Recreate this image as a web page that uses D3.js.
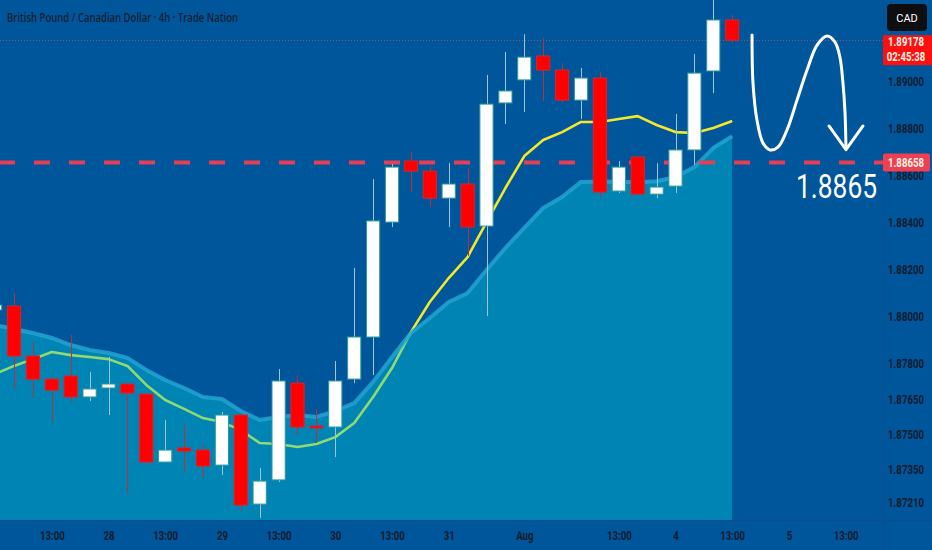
<!DOCTYPE html>
<html>
<head>
<meta charset="utf-8">
<script src="https://cdn.jsdelivr.net/npm/d3@7"></script>
<style>
  html, body { margin: 0; padding: 0; background: #00569a; }
  svg { display: block; }
  .axis text {
    font-family: Roboto, "DejaVu Sans", sans-serif;
    font-weight: bold;
    font-size: 12px;
    fill: #131a2e;
  }
</style>
</head>
<body>
<div id="chart"></div>
<script>
//******************
// Data (4h candles, GBP/CAD)
//******************
var opens = [1.88030, 1.88047, 1.87834, 1.87736, 1.87749, 1.87660, 1.87698, 1.87715, 1.87672, 1.87383,
  1.87443, 1.87434, 1.87370, 1.87583, 1.87204, 1.87307, 1.87719, 1.87536, 1.87532, 1.87736,
  1.87915, 1.88404, 1.88664, 1.88621, 1.88506, 1.88566, 1.88387, 1.88911, 1.89009, 1.89111,
  1.89051, 1.88923, 1.89017, 1.88536, 1.88681, 1.88523, 1.88557, 1.88711, 1.89047, 1.89264];
var highs = [1.88072, 1.88102, 1.87894, 1.87749, 1.87924, 1.87766, 1.87830, 1.87715, 1.87672, 1.87562,
  1.87541, 1.87460, 1.87596, 1.87583, 1.87358, 1.87779, 1.87753, 1.87609, 1.87813, 1.88209,
  1.88587, 1.88651, 1.88702, 1.88643, 1.88655, 1.88634, 1.89030, 1.89128, 1.89204, 1.89187,
  1.89081, 1.89060, 1.89043, 1.88664, 1.88681, 1.88655, 1.88864, 1.89119, 1.89362, 1.89285];
var lows = [1.87996, 1.87694, 1.87660, 1.87553, 1.87638, 1.87643, 1.87583, 1.87251, 1.87375, 1.87383,
  1.87341, 1.87315, 1.87328, 1.87175, 1.87145, 1.87298, 1.87498, 1.87464, 1.87404, 1.87719,
  1.87753, 1.88383, 1.88532, 1.88468, 1.88383, 1.88260, 1.88004, 1.88821, 1.88872, 1.88919,
  1.88911, 1.88843, 1.88511, 1.88528, 1.88523, 1.88506, 1.88528, 1.88647, 1.88953, 1.89166];
var closes = [1.88051, 1.87834, 1.87736, 1.87689, 1.87660, 1.87694, 1.87715, 1.87677, 1.87383, 1.87434,
  1.87430, 1.87366, 1.87583, 1.87200, 1.87302, 1.87728, 1.87532, 1.87528, 1.87728, 1.87915,
  1.88409, 1.88638, 1.88621, 1.88506, 1.88566, 1.88383, 1.88906, 1.88962, 1.89106, 1.89051,
  1.88923, 1.89017, 1.88532, 1.88638, 1.88523, 1.88553, 1.88711, 1.89038, 1.89264, 1.89178];

// slow average, drawn as filled area
var maSlow = [1.87966, 1.87949, 1.87932, 1.87911, 1.87881, 1.87860, 1.87847, 1.87826, 1.87775, 1.87732,
  1.87698, 1.87660, 1.87651, 1.87600, 1.87562, 1.87575, 1.87583, 1.87575, 1.87600, 1.87634,
  1.87724, 1.87830, 1.87932, 1.87996, 1.88064, 1.88102, 1.88200, 1.88294, 1.88379, 1.88464,
  1.88511, 1.88575, 1.88577, 1.88576, 1.88574, 1.88578, 1.88596, 1.88638, 1.88719, 1.88770];
// fast average (yellow line)
var maFast = [1.87758, 1.87792, 1.87821, 1.87851, 1.87838, 1.87830, 1.87821, 1.87792, 1.87711, 1.87647,
  1.87609, 1.87570, 1.87553, 1.87519, 1.87464, 1.87460, 1.87447, 1.87460, 1.87489, 1.87549,
  1.87660, 1.87783, 1.87936, 1.88064, 1.88166, 1.88255, 1.88404, 1.88549, 1.88685, 1.88753,
  1.88787, 1.88830, 1.88830, 1.88843, 1.88855, 1.88817, 1.88787, 1.88783, 1.88804, 1.88834];

var priceTicks = [1.89, 1.888, 1.886, 1.884, 1.882, 1.88, 1.878, 1.8765, 1.875, 1.8735, 1.8721];
var timeTickIdx = [3, 6, 9, 12, 15, 18, 21, 24, 28, 33, 36, 39, 42, 45];
var timeTickLabels = ["13:00", "28", "13:00", "29", "13:00", "30", "13:00", "31", "Aug", "13:00", "4", "13:00", "5", "13:00"];

var lastPrice = 1.89178;
var levelPrice = 1.88658;
var levelText = "1.8865";

// hand drawn projection arrow, in [candle index, price]
var arrowPath = [[40.05, 1.89200], [40.10, 1.88996], [40.31, 1.88838], [40.63, 1.88740], [41.0, 1.88711],
  [41.42, 1.88723], [41.90, 1.88796], [42.43, 1.88923], [42.96, 1.89051], [43.49, 1.89157],
  [44.02, 1.89196], [44.44, 1.89170], [44.70, 1.89106], [44.86, 1.88996], [44.97, 1.88868], [45.02, 1.88719]];
var arrowHead = [[44.12, 1.88813], [45.02, 1.88712], [45.92, 1.88813]];

//******************
// Setup
//******************
var width = 932;
var height = 550;
var plotW = 883;
var plotH = 520;
var textDark = "#131a2e";

var x = d3.scaleLinear().domain([0, 47]).range([-4.9, 883.4]);
var y = d3.scaleLinear().domain([1.871364, 1.89349]).range([plotH, 0]);
var barW = 13.2;

// squeeze labels horizontally, the chart uses a narrow face
function narrow(sel, f) {
  sel.each(function () {
    this.setAttribute("textLength", this.getComputedTextLength() * f);
    this.setAttribute("lengthAdjust", "spacingAndGlyphs");
  });
}

var svg = d3.select("#chart").append("svg")
  .attr("width", width)
  .attr("height", height);

svg.append("rect").attr("width", width).attr("height", height).attr("fill", "#00569a");

svg.append("defs").append("clipPath").attr("id", "plot-clip")
  .append("rect").attr("width", plotW).attr("height", plotH);

var plot = svg.append("g").attr("clip-path", "url(#plot-clip)");

// fast MA sits under the translucent area, so it turns green inside it
plot.append("path")
  .datum(maFast)
  .attr("fill", "none")
  .attr("stroke", "#f5e72c")
  .attr("stroke-width", 2.6)
  .attr("stroke-linejoin", "round")
  .attr("d", d3.line().x((d, i) => x(i)).y((d) => y(d)));

plot.append("path")
  .datum(maSlow)
  .attr("fill", "rgba(0,200,217,0.41)")
  .attr("d", d3.area().x((d, i) => x(i)).y0(plotH).y1((d) => y(d)));

plot.append("path")
  .datum(maSlow)
  .attr("fill", "none")
  .attr("stroke", "#22a3d2")
  .attr("stroke-opacity", 0.85)
  .attr("stroke-width", 4)
  .attr("stroke-linejoin", "round")
  .attr("d", d3.line().x((d, i) => x(i)).y((d) => y(d)));

// key level
plot.append("line")
  .attr("x1", 0).attr("x2", plotW)
  .attr("y1", y(levelPrice)).attr("y2", y(levelPrice))
  .attr("stroke", "#e63f55")
  .attr("stroke-width", 4)
  .attr("stroke-dasharray", "16,19")
  .attr("stroke-dashoffset", 1);

// last price
plot.append("line")
  .attr("x1", 0).attr("x2", plotW)
  .attr("y1", Math.round(y(lastPrice)) + 0.5).attr("y2", Math.round(y(lastPrice)) + 0.5)
  .attr("stroke", "#e0505a")
  .attr("stroke-opacity", 0.7)
  .attr("stroke-width", 1)
  .attr("stroke-dasharray", "1,2");

// candles
var candles = plot.append("g")
  .selectAll("g")
  .data(opens.map((o, i) => ({ i: i, o: o, h: highs[i], l: lows[i], c: closes[i] })))
  .join("g");

candles.append("line")
  .attr("x1", (d) => Math.round(x(d.i)) + 0.5)
  .attr("x2", (d) => Math.round(x(d.i)) + 0.5)
  .attr("y1", (d) => y(d.h))
  .attr("y2", (d) => y(d.l))
  .attr("stroke", (d) => (d.c >= d.o ? "#9fc4d2" : "#b8303f"))
  .attr("stroke-width", 1);

candles.append("rect")
  .attr("x", (d) => x(d.i) - barW / 2)
  .attr("width", barW)
  .attr("y", (d) => y(Math.max(d.o, d.c)))
  .attr("height", (d) => Math.max(1, Math.abs(y(d.o) - y(d.c))))
  .attr("fill", (d) => (d.c >= d.o ? "#ffffff" : "#ff0000"))
  .attr("stroke", (d) => (d.c >= d.o ? "#2b9a9c" : "#e0202c"))
  .attr("stroke-width", 1);

// drawing: projected path + target label
var pt = (d) => [x(d[0]), y(d[1])];
plot.append("path")
  .attr("d", d3.line().curve(d3.curveCatmullRom)(arrowPath.map(pt)))
  .attr("fill", "none")
  .attr("stroke", "#ffffff")
  .attr("stroke-width", 3)
  .attr("stroke-linecap", "round");
plot.append("path")
  .attr("d", d3.line()(arrowHead.map(pt)))
  .attr("fill", "none")
  .attr("stroke", "#ffffff")
  .attr("stroke-width", 3)
  .attr("stroke-linecap", "round")
  .attr("stroke-linejoin", "round");

plot.append("text")
  .attr("x", x(44.52))
  .attr("y", y(1.88506))
  .attr("text-anchor", "middle")
  .attr("font-family", "Roboto, sans-serif")
  .attr("font-size", 33)
  .attr("fill", "#ffffff")
  .attr("textLength", 81)
  .attr("lengthAdjust", "spacingAndGlyphs")
  .text(levelText);

// frame lines
svg.append("line").attr("x1", plotW + 0.5).attr("x2", plotW + 0.5).attr("y1", 0).attr("y2", height)
  .attr("stroke", "#0a4f8c");
svg.append("line").attr("x1", 0).attr("x2", width).attr("y1", plotH + 0.5).attr("y2", plotH + 0.5)
  .attr("stroke", "#0a4f8c");

//******************
// Axes
//******************
var yAxisG = svg.append("g")
  .attr("class", "axis")
  .attr("transform", `translate(${plotW},0)`)
  .call(d3.axisRight(y).tickValues(priceTicks).tickSize(0).tickFormat(d3.format(".5f")))
  .call((g) => g.select(".domain").remove())
  .call((g) => g.selectAll("text").attr("x", 23).attr("text-anchor", "middle").style("fill", textDark));
narrow(yAxisG.selectAll("text"), 0.8);

var xAxisG = svg.append("g")
  .attr("class", "axis")
  .attr("transform", `translate(0,${plotH})`)
  .call(d3.axisBottom(x).tickValues(timeTickIdx).tickSize(0).tickPadding(11)
    .tickFormat((d, i) => timeTickLabels[i]))
  .call((g) => g.select(".domain").remove())
  .call((g) => g.selectAll("text").style("fill", textDark));
narrow(xAxisG.selectAll("text"), 0.8);

// title
svg.append("text")
  .attr("x", 7)
  .attr("y", 22)
  .attr("font-family", "'Open Sans', sans-serif")
  .attr("font-weight", 600)
  .attr("font-size", 13)
  .style("fill", "#161e33")
  .attr("textLength", 231)
  .attr("lengthAdjust", "spacingAndGlyphs")
  .text("British Pound / Canadian Dollar · 4h · Trade Nation");

// price scale badges
svg.append("rect")
  .attr("x", 887).attr("y", 4).attr("width", 40).attr("height", 27).attr("rx", 4)
  .attr("fill", "#0e0e10");
svg.append("text")
  .attr("x", 907).attr("y", 22)
  .attr("text-anchor", "middle")
  .attr("font-family", "Roboto, sans-serif")
  .attr("font-size", 11)
  .style("fill", "#ffffff")
  .text("CAD");

svg.append("rect")
  .attr("x", plotW).attr("y", y(lastPrice) - 5).attr("width", width - plotW).attr("height", 30)
  .attr("fill", "#ff1010");
var lastLbl = svg.append("g").attr("class", "axis");
lastLbl.append("text")
  .attr("x", 906).attr("y", y(lastPrice) + 6)
  .attr("text-anchor", "middle")
  .style("fill", "#fff6e6")
  .text(d3.format(".5f")(lastPrice));
lastLbl.append("text")
  .attr("x", 906).attr("y", y(lastPrice) + 21)
  .attr("text-anchor", "middle")
  .style("fill", "#fff6e6")
  .text("02:45:38");
narrow(lastLbl.selectAll("text"), 0.8);

svg.append("rect")
  .attr("x", plotW).attr("y", y(levelPrice) - 9).attr("width", 47).attr("height", 18).attr("rx", 2)
  .attr("fill", "#ee4052");
var levelLbl = svg.append("g").attr("class", "axis");
levelLbl.append("text")
  .attr("x", 906).attr("y", y(levelPrice) + 4.5)
  .attr("text-anchor", "middle")
  .style("fill", "#fff6e6")
  .text(d3.format(".5f")(levelPrice));
narrow(levelLbl.selectAll("text"), 0.8);
</script>
</body>
</html>
